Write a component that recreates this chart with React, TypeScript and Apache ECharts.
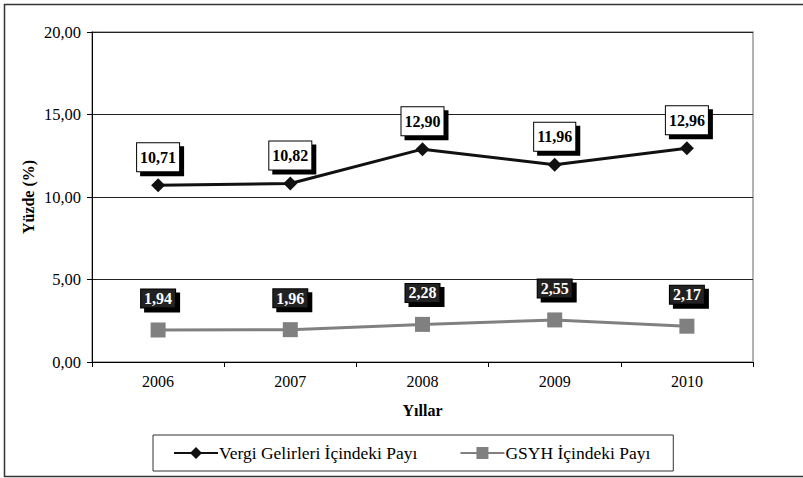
import React, { useEffect, useRef } from "react";
import * as echarts from "echarts";

const years = ["2006", "2007", "2008", "2009", "2010"];
const vergiPayi = [10.71, 10.82, 12.9, 11.96, 12.96];
const gsyhPayi = [1.94, 1.96, 2.28, 2.55, 2.17];
const seriesNames = ["Vergi Gelirleri İçindeki Payı", "GSYH İçindeki Payı"];

const FONT = "Times New Roman, Liberation Serif, serif";
const fmt = (v: number) => v.toFixed(2).replace(".", ",");

export default function App() {
  const ref = useRef<HTMLDivElement>(null);
  useEffect(() => {
    document.body.style.margin = "0";
    const chart = echarts.init(ref.current!, null, { renderer: "svg" });
    chart.setOption({
      animation: false,
      backgroundColor: "#fff",
      textStyle: { fontFamily: FONT },
      graphic: [
        {
          type: "rect",
          shape: { x: 4.5, y: 4.5, width: 810, height: 472 },
          style: { fill: "none", stroke: "#333", lineWidth: 1.5 },
          z: -1,
        },
      ],
      grid: { left: 92, top: 32, right: 50, bottom: 116, show: true, borderColor: "#999", borderWidth: 1.5 },
      legend: {
        top: 435,
        left: 153,
        padding: [9, 23, 9, 20],
        itemGap: 42,
        itemWidth: 44,
        itemHeight: 15,
        borderColor: "#333",
        borderWidth: 1,
        textStyle: { fontFamily: FONT, fontSize: 17.5, color: "#000", padding: [0, 0, 0, -4] },
        data: seriesNames,
      },
      xAxis: {
        type: "category",
        data: years,
        name: "Yıllar",
        nameLocation: "middle",
        nameGap: 40,
        nameTextStyle: { fontFamily: FONT, fontWeight: "bold", fontSize: 16, color: "#000" },
        axisLine: { lineStyle: { color: "#000", width: 1 } },
        axisTick: { show: true, alignWithLabel: false, length: 5, lineStyle: { color: "#000" } },
        axisLabel: { fontFamily: FONT, fontSize: 16, color: "#000", margin: 11 },
      },
      yAxis: {
        type: "value",
        min: 0,
        max: 20,
        interval: 5,
        name: "Yüzde (%)",
        nameLocation: "middle",
        nameGap: 56,
        nameMoveOverlap: false,
        nameTextStyle: { fontFamily: FONT, fontWeight: "bold", fontSize: 16, color: "#000" },
        axisLine: { show: true, lineStyle: { color: "#000", width: 1 } },
        axisTick: { show: true, length: 5, lineStyle: { color: "#000" } },
        axisLabel: { fontFamily: FONT, fontSize: 16.5, color: "#000", margin: 11, formatter: (v: number) => fmt(v) },
        splitLine: { show: true, lineStyle: { color: "#222", width: 1 } },
      },
      series: [
        {
          name: seriesNames[0],
          type: "line",
          data: vergiPayi,
          symbol: "diamond",
          symbolSize: 14,
          itemStyle: { color: "#111" },
          lineStyle: { color: "#111", width: 3 },
          label: {
            show: true,
            position: "top",
            distance: 7,
            formatter: (p: any) => fmt(p.value),
            fontFamily: FONT,
            fontWeight: "bold",
            fontSize: 16,
            color: "#000",
            backgroundColor: "#fff",
            borderColor: "#000",
            borderWidth: 1,
            padding: [6, 3, 6, 3],
            shadowColor: "#000",
            shadowOffsetX: 4,
            shadowOffsetY: 4,
            shadowBlur: 0,
          },
        },
        {
          name: seriesNames[1],
          type: "line",
          data: gsyhPayi,
          symbol: "rect",
          symbolSize: 15,
          itemStyle: { color: "#808080" },
          lineStyle: { color: "#808080", width: 3 },
          label: {
            show: true,
            position: "top",
            distance: 15,
            formatter: (p: any) => fmt(p.value),
            fontFamily: FONT,
            fontWeight: "bold",
            fontSize: 16,
            color: "#fff",
            backgroundColor: "#222",
            borderColor: "#000",
            borderWidth: 1,
            padding: [1, 3, 1, 3],
            shadowColor: "#000",
            shadowOffsetX: 4,
            shadowOffsetY: 4,
            shadowBlur: 0,
          },
        },
      ],
    });
    return () => chart.dispose();
  }, []);
  return <div ref={ref} style={{ width: 803, height: 478 }} />;
}
